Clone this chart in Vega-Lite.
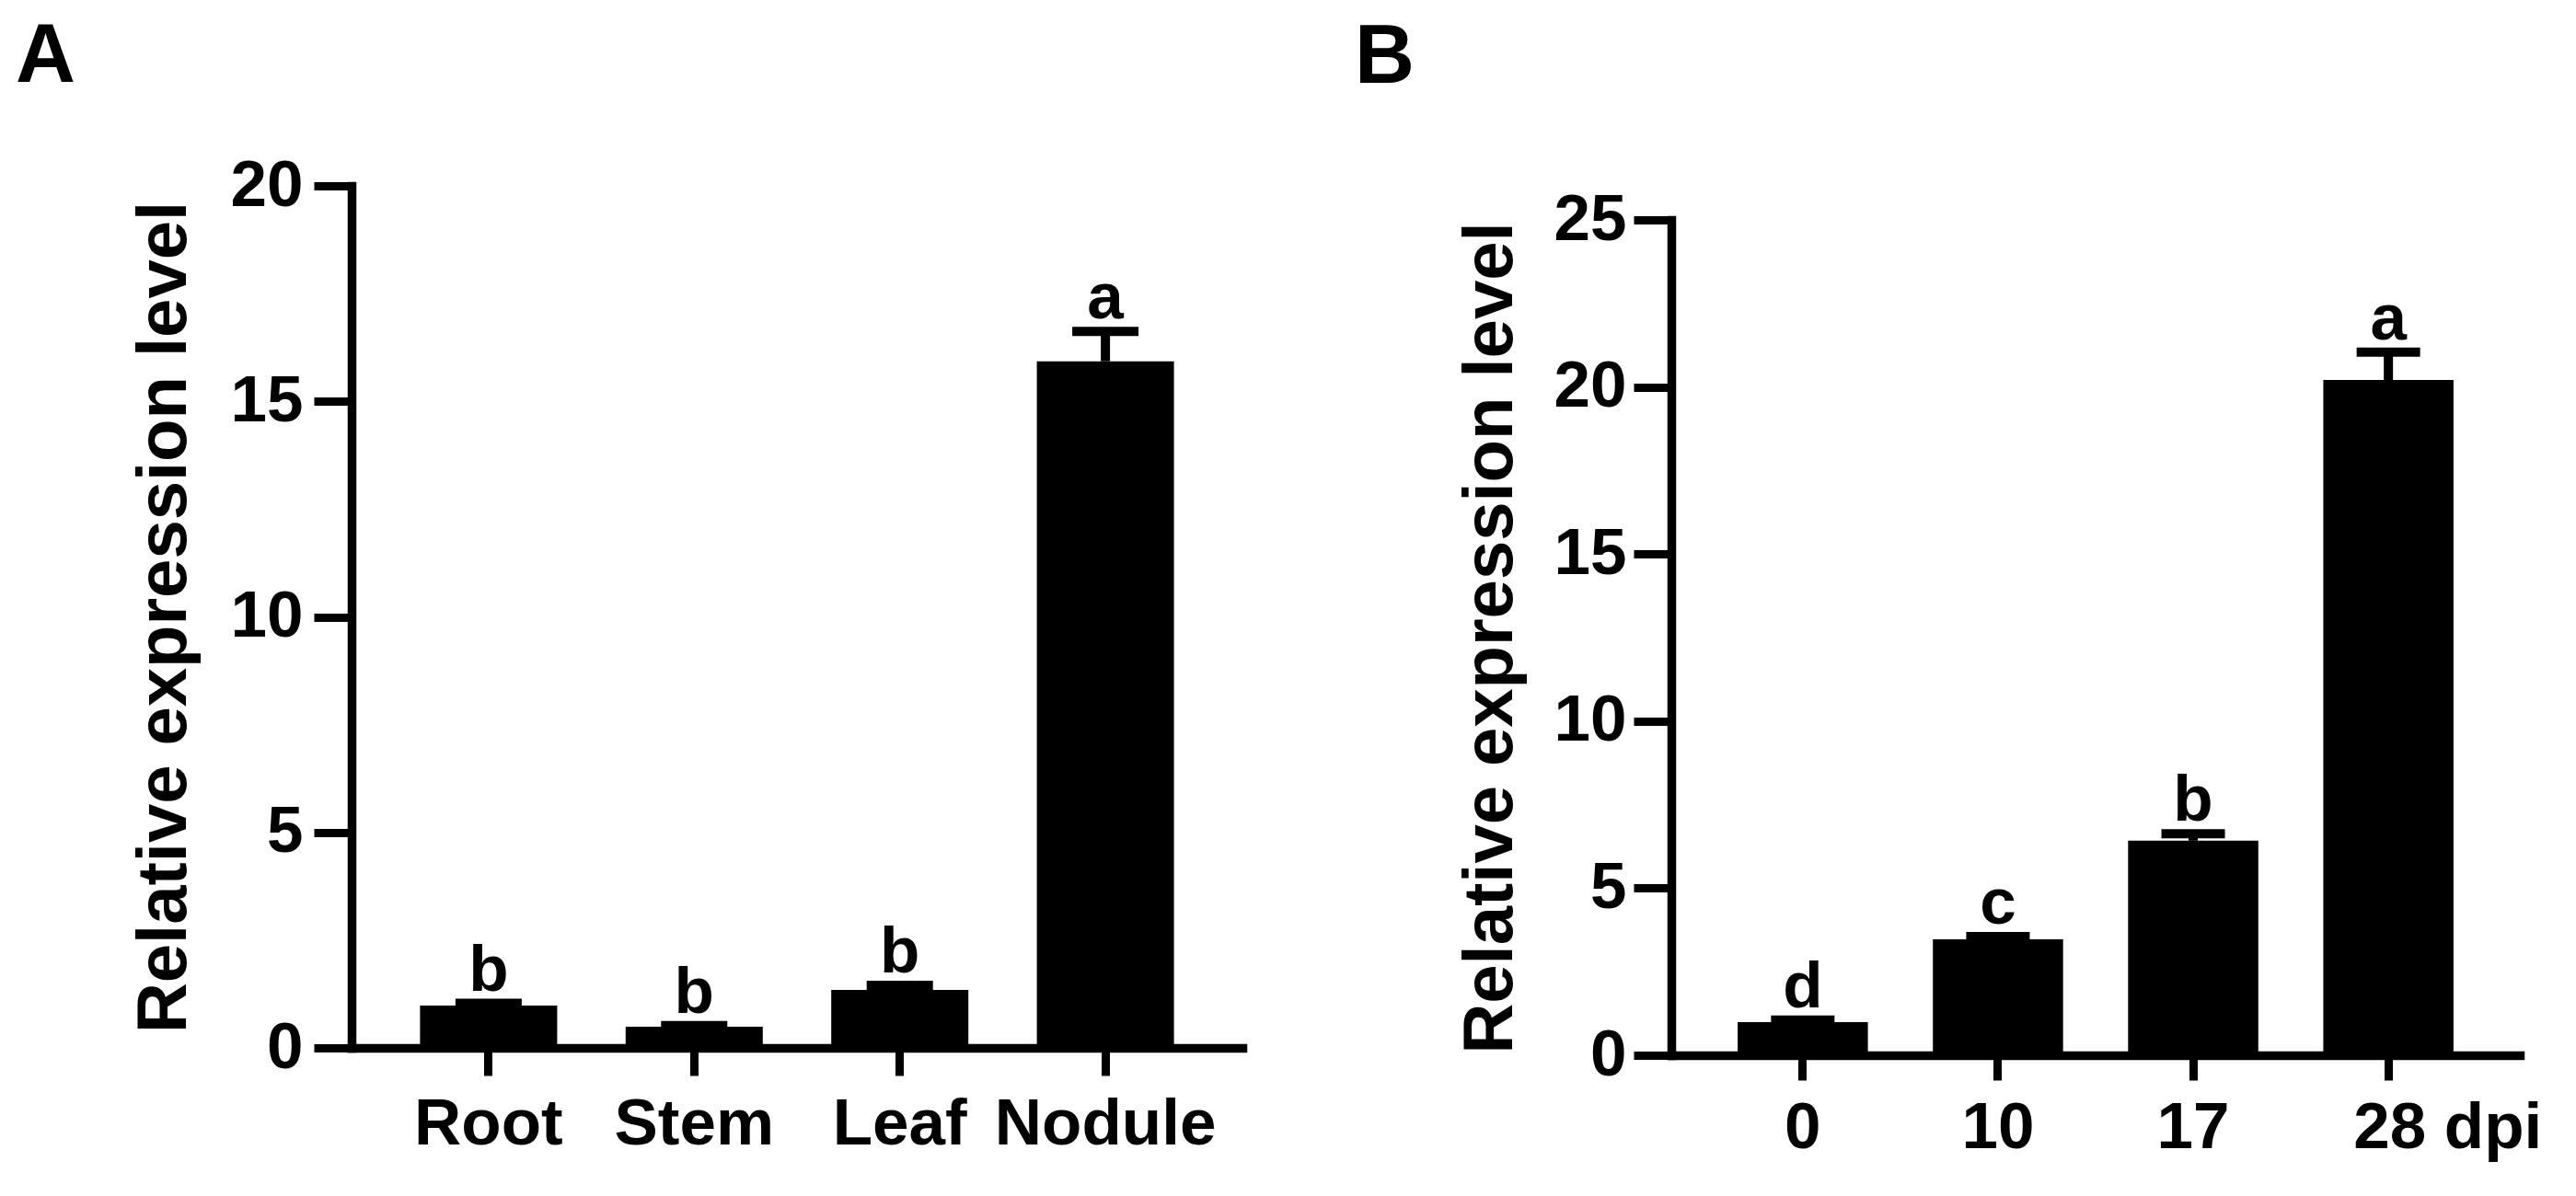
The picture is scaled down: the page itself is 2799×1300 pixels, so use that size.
{
  "$schema": "https://vega.github.io/schema/vega-lite/v6.json",
  "background": "white",
  "padding": {"left": 17, "top": 17, "right": 10, "bottom": 10},
  "autosize": {"type": "pad"},
  "datasets": {
    "tissues": [
      {"tissue": "Root", "mean": 0.98, "upper": 1.035, "letter": "b"},
      {"tissue": "Stem", "mean": 0.49, "upper": 0.52, "letter": "b"},
      {"tissue": "Leaf", "mean": 1.345, "upper": 1.45, "letter": "b"},
      {"tissue": "Nodule", "mean": 15.93, "upper": 16.62, "letter": "a"}
    ],
    "timecourse": [
      {"dpi": "0", "mean": 0.99, "upper": 1.05, "letter": "d"},
      {"dpi": "10", "mean": 3.47, "upper": 3.55, "letter": "c"},
      {"dpi": "17", "mean": 6.42, "upper": 6.63, "letter": "b"},
      {"dpi": "28", "mean": 20.21, "upper": 21.04, "letter": "a"}
    ]
  },
  "config": {
    "view": {"stroke": null},
    "font": "Liberation Sans",
    "axis": {
      "grid": false,
      "domainColor": "black",
      "tickColor": "black",
      "labelColor": "black",
      "titleColor": "black",
      "labelFont": "Liberation Sans",
      "titleFont": "Liberation Sans",
      "labelFontWeight": "bold",
      "titleFontWeight": "bold",
      "labelFontSize": 71,
      "titleFontSize": 76,
      "domainWidth": 9.5,
      "tickWidth": 9,
      "domainCap": "square",
      "labelOverlap": false,
      "labelLimit": 1000
    },
    "title": {
      "font": "Liberation Sans",
      "fontSize": 90,
      "fontWeight": "bold",
      "color": "black",
      "anchor": "start",
      "frame": "group"
    }
  },
  "spacing": 122,
  "hconcat": [
    {
      "width": 968,
      "height": 937,
      "title": {"text": "A", "dx": -365, "offset": 58},
      "data": {"name": "tissues"},
      "encoding": {
        "x": {
          "field": "tissue",
          "type": "nominal",
          "sort": null,
          "scale": {"paddingInner": 0.333, "paddingOuter": 0.333},
          "axis": {"title": null, "labelAngle": 0, "tickSize": 30, "labelPadding": 18}
        }
      },
      "layer": [
        {
          "mark": {"type": "bar", "color": "black"},
          "encoding": {
            "y": {
              "field": "mean",
              "type": "quantitative",
              "scale": {"domain": [0, 20], "nice": false},
              "axis": {
                "title": "Relative expression level",
                "values": [0, 5, 10, 15, 20],
                "tickSize": 41,
                "labelPadding": 12,
                "titlePadding": 33
              }
            }
          }
        },
        {
          "mark": {"type": "rule", "color": "black", "strokeWidth": 10},
          "encoding": {
            "y": {"field": "mean", "type": "quantitative"},
            "y2": {"field": "upper"}
          }
        },
        {
          "mark": {"type": "tick", "color": "black", "opacity": 1, "thickness": 10, "size": 72},
          "encoding": {"y": {"field": "upper", "type": "quantitative"}}
        },
        {
          "mark": {"type": "text", "baseline": "alphabetic", "dy": -14, "fontSize": 71, "fontWeight": "bold", "font": "Liberation Sans", "color": "black"},
          "encoding": {
            "y": {"field": "upper", "type": "quantitative"},
            "text": {"field": "letter"}
          }
        }
      ]
    },
    {
      "width": 922,
      "height": 945,
      "title": {"text": "B", "dx": -344, "offset": 93},
      "data": {"name": "timecourse"},
      "encoding": {
        "x": {
          "field": "dpi",
          "type": "nominal",
          "sort": null,
          "scale": {"paddingInner": 0.333, "paddingOuter": 0.34},
          "axis": {
            "title": null,
            "labelAngle": 0,
            "tickSize": 27,
            "labelPadding": 17,
            "labelExpr": "datum.value == '28' ? '28 dpi' : datum.label",
            "labelAlign": {"condition": {"test": "datum.value == '28'", "value": "left"}, "value": "center"},
            "labelOffset": {"condition": {"test": "datum.value == '28'", "value": -38}, "value": 0}
          }
        }
      },
      "layer": [
        {
          "mark": {"type": "bar", "color": "black"},
          "encoding": {
            "y": {
              "field": "mean",
              "type": "quantitative",
              "scale": {"domain": [0, 25], "nice": false, "range": [945, 37]},
              "axis": {
                "title": "Relative expression level",
                "values": [0, 5, 10, 15, 20, 25],
                "tickSize": 41,
                "labelPadding": 8,
                "titlePadding": 30
              }
            }
          }
        },
        {
          "mark": {"type": "rule", "color": "black", "strokeWidth": 10},
          "encoding": {
            "y": {"field": "mean", "type": "quantitative"},
            "y2": {"field": "upper"}
          }
        },
        {
          "mark": {"type": "tick", "color": "black", "opacity": 1, "thickness": 10, "size": 69},
          "encoding": {"y": {"field": "upper", "type": "quantitative"}}
        },
        {
          "mark": {"type": "text", "baseline": "alphabetic", "dy": -14, "fontSize": 71, "fontWeight": "bold", "font": "Liberation Sans", "color": "black"},
          "encoding": {
            "y": {"field": "upper", "type": "quantitative"},
            "text": {"field": "letter"}
          }
        }
      ]
    }
  ]
}
